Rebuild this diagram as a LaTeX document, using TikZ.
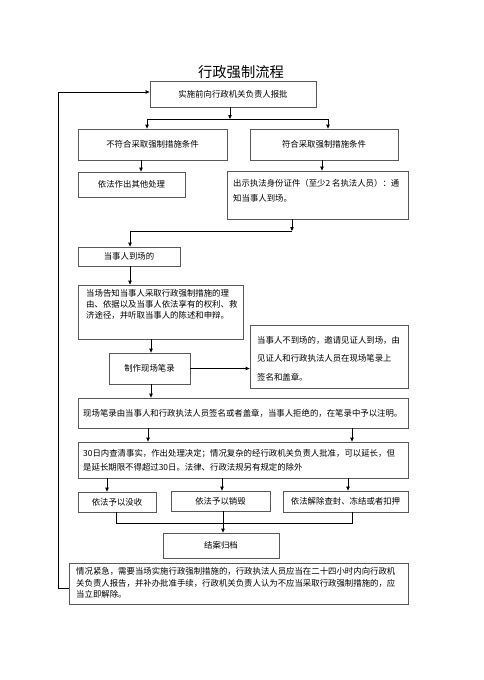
\documentclass[tikz,border=0pt]{standalone}
\usepackage{fontspec}
\setmainfont{Noto Sans CJK SC}
\usetikzlibrary{arrows.meta}
\begin{document}
\begin{tikzpicture}[x=1pt,y=-1pt,
  box/.style={draw=black!65,line width=0.7pt,minimum width=#1,inner sep=0pt,font=\fontsize{8.4}{11}\selectfont},
  txt/.style={inner sep=0pt,align=left,font=\fontsize{8.4}{#1}\selectfont},
  arr/.style={-{Triangle[length=4pt,width=3.4pt]},line width=0.8pt},
  ln/.style={line width=0.8pt}]
\useasboundingbox[fill=white] (0,0) rectangle (483,680);
\node[inner sep=0pt,font=\fontsize{14.3}{16}\selectfont] (title) at (241,72) {行政强制流程};
\node[box=166pt,minimum height=26pt] (b1) at (233,94) {实施前向行政机关负责人报批};
\node[box=149pt,minimum height=31pt] (b2) at (152.5,144.5) {不符合采取强制措施条件};
\node[box=148pt,minimum height=31pt] (b3) at (324,144.5) {符合采取强制措施条件};
\node[box=107pt,minimum height=25pt] (b4) at (131.5,184.5) {依法作出其他处理};
\node[box=181pt,minimum height=48pt] (b5) at (317.5,195) {};
\node[txt=15,anchor=north west] (t5) at (233,179) {出示执法身份证件（至少2 名执法人员）：通\\知当事人到场。};
\node[box=102pt,minimum height=19pt] (b6) at (129,256.5) {当事人到场的};
\node[box=165pt,minimum height=54pt] (b7) at (160.5,312) {};
\node[txt=11,anchor=north west] (t7) at (86,289) {当场告知当事人采取行政强制措施的理\\由、依据以及当事人依法享有的权利、救\\济途径，并听取当事人的陈述和申辩。};
\node[box=81pt,minimum height=31pt] (b8) at (149.5,368.5) {制作现场笔录};
\node[box=158pt,minimum height=63pt] (b9) at (329,356.5) {};
\node[txt=18.5,anchor=north west] (t9) at (257,336) {当事人不到场的，邀请见证人到场，由\\见证人和行政执法人员在现场笔录上\\签名和盖章。};
\node[box=330pt,minimum height=30pt] (b10) at (243,413) {};
\node[txt=11,anchor=west] (t10) at (83,413.5) {现场笔录由当事人和行政执法人员签名或者盖章，当事人拒绝的，在笔录中予以注明。};
\node[box=330pt,minimum height=36pt] (b11) at (243,460) {};
\node[txt=14,anchor=north west] (t11) at (83,449) {30日内查清事实，作出处理决定；情况复杂的经行政机关负责人批准，可以延长，但\\是延长期限不得超过30日。法律、行政法规另有规定的除外};
\node[box=78pt,minimum height=20pt] (b12) at (117,502) {依法予以没收};
\node[box=99pt,minimum height=20pt] (b13) at (220.5,501) {依法予以销毁};
\node[box=125pt,minimum height=21pt] (b14) at (345.5,501.5) {依法解除查封、冻结或者扣押};
\node[box=116pt,minimum height=25pt] (b15) at (221,545.5) {结案归档};
\node[box=339pt,minimum height=41pt] (b16) at (238.5,583.5) {};
\node[txt=11.5,anchor=north west] (t16) at (76,567.5) {情况紧急，需要当场实施行政强制措施的，行政执法人员应当在二十四小时内向行政机\\关负责人报告，并补办批准手续，行政机关负责人认为不应当采取行政强制措施的，应\\当立即解除。};
% junctions
\coordinate (j1) at (230,119);
\coordinate (j1l) at (147,119);
\coordinate (j1r) at (328,119);
\coordinate (j5) at (292,231);
\coordinate (j5l) at (130,231);
\coordinate (j15) at (223,523);
\coordinate (j15l) at (116,523);
\coordinate (j15r) at (352,523);
\coordinate (lp1) at (58,588);
\coordinate (lp2) at (58,92);
% connectors
\draw[arr] (b1.south -| j1) -- (j1);
\draw[ln] (j1l) -- (j1r);
\draw[arr] (j1l) -- (b2.north -| j1l);
\draw[arr] (j1r) -- (b3.north -| j1r);
\draw[arr] (b2.south -| 141,0) -- (b4.north -| 141,0);
\draw[arr] (b3.south -| 322,0) -- (b5.north -| 322,0);
\draw[arr] (b5.south -| j5) -- (j5);
\draw[ln] (j5) -- (j5l);
\draw[arr] (j5l) -- (b6.north -| j5l);
\draw[arr] (b6.south -| j5l) -- (b7.north -| j5l);
\draw[arr] (b7.south -| 151,0) -- (b8.north -| 151,0);
\draw[arr] (b8.east) -- (b9.west |- b8.east);
\draw[arr] (b8.south -| 151,0) -- (b10.north -| 151,0);
\draw[arr] (b10.south -| 148,0) -- (b11.north -| 148,0);
\draw[arr] (b10.south -| 352,0) -- (b11.north -| 352,0);
\draw[arr] (b11.south -| 107,0) -- (b12.north -| 107,0);
\draw[arr] (b11.south -| 222,0) -- (b13.north -| 222,0);
\draw[arr] (b11.south -| 348,0) -- (b14.north -| 348,0);
\draw[ln] (b12.south -| j15l) -- (j15l) -- (j15r) -- (b14.south -| j15r);
\draw[ln] (b13.south -| j15) -- (j15);
\draw[arr] (j15) -- (b15.north -| j15);
\draw[arr] (b16.west |- lp1) -- (lp1) -- (lp2) -- (b1.west |- lp2);
\end{tikzpicture}
\end{document}
